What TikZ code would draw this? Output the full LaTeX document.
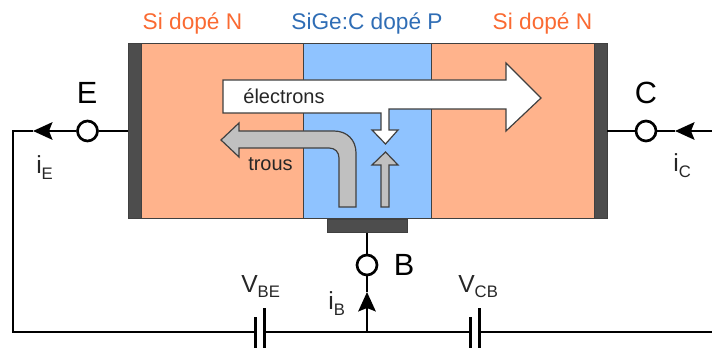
\documentclass[tikz,border=0pt]{standalone}
\usepackage{fontspec}
\setmainfont{Liberation Sans}
\usetikzlibrary{arrows.meta}
\definecolor{peach}{HTML}{FFB38C}
\definecolor{baseblue}{HTML}{8FC3FF}
\definecolor{contact}{HTML}{4D4D4D}
\definecolor{carrier}{HTML}{C0C0C0}
\definecolor{orangetxt}{HTML}{FA6A32}
\definecolor{bluetxt}{HTML}{2F6DB5}
\definecolor{edge}{HTML}{404040}
\newcommand{\withsub}[2]{{\fontsize{18.5}{22}\selectfont #1\raisebox{-4pt}{\fontsize{12.5}{15}\selectfont #2}}}
\tikzset{
  region/.style={draw=edge,line width=0.75pt},
  metal/.style={draw=edge,fill=contact,line width=0.75pt},
  wire/.style={draw=black,line width=2.2pt},
  plate/.style={draw=black,line width=2.4pt},
  term/.style={circle,draw=black,fill=white,line width=2pt,minimum size=15pt,inner sep=0pt},
  flow/.style={draw=edge,line width=0.9pt,line join=miter},
  headwire/.style={wire,-{Stealth[length=14.5pt,width=13pt,inset=2.5pt]}},
  dopelabel/.style={font=\fontsize{17}{20}\selectfont,inner sep=0pt},
  bigletter/.style={font=\fontsize{23}{28}\selectfont,inner sep=0pt},
  flowlabel/.style={font=\fontsize{15}{18}\selectfont,inner sep=0pt,text=black!85},
  sublabel/.style={inner sep=0pt,text=black!85}
}
\begin{document}
\begin{tikzpicture}[x=0.75pt,y=-0.75pt]
\useasboundingbox (0,0) rectangle (712,348);
% regions
\filldraw[region,fill=peach] (128,44) rectangle (607,219);
\filldraw[region,fill=baseblue] (303,44) rectangle (431,219);
\node[metal,minimum width=9.75pt,minimum height=131.25pt,inner sep=0pt,outer sep=0pt] (ce) at (134.5,131.5) {};
\node[metal,minimum width=9.75pt,minimum height=131.25pt,inner sep=0pt,outer sep=0pt] (cc) at (600.5,131.5) {};
\node[metal,minimum width=60pt,minimum height=10pt,inner sep=0pt,outer sep=0pt] (cb) at (367,226) {};
% flow arrows
\filldraw[flow,fill=white] (223,80) -- (506,80) -- (506,63) -- (541,98) -- (506,131) -- (506,109)
  -- (389,109) -- (389,130) -- (398,130) -- (385.5,144) -- (372,130) -- (381,130) -- (381,113) -- (223,113) -- cycle;
\filldraw[flow,fill=carrier] (356,207) -- (356,153) .. controls (356,140) and (347,131) .. (334,131)
  -- (239,131) -- (239,123) -- (221,140) -- (239,157) -- (239,148) -- (329,148)
  .. controls (335,148) and (339,152) .. (339,158) -- (339,207) -- cycle;
\filldraw[flow,fill=carrier] (381,207) -- (381,165) -- (372,165) -- (385.5,152) -- (398,165) -- (389,165) -- (389,207) -- cycle;
% terminals
\node[term] (te) at (87.5,131) {};
\node[term] (tc) at (646,131) {};
\node[term] (tb) at (367,265) {};
% named points
\coordinate (tipe) at (33,131);
\coordinate (cornerl) at (13,131);
\coordinate (botl) at (13,332);
\coordinate (pa1) at (255.5,332);
\coordinate (pa2) at (264.5,332);
\coordinate (pb1) at (470.5,332);
\coordinate (pb2) at (479.5,332);
\coordinate (junc) at (367,332);
\coordinate (tipb) at (367,292);
\coordinate (tipc) at (675,131);
\coordinate (edgeR) at (712,131);
\coordinate (botR) at (712,332);
% wires
\draw[wire] (te) -- (ce.west |- te);
\draw[headwire] (te) -- (tipe);
\draw[wire,line join=miter] (tipe) -- (cornerl) -- (botl) -- (pa1);
\draw[wire] (pa2) -- (pb1);
\draw[wire] (pb2) -- (botR);
\draw[wire] (tc) -- (cc.east |- tc);
\draw[headwire] (edgeR) -- (tipc);
\draw[wire] (tipc) -- (tc);
\draw[wire] (cb) -- (tb);
\draw[headwire] (junc) -- (tipb);
\draw[wire] (tipb) -- (tb);
% plates
\draw[plate] (255.5,317) -- (255.5,348);
\draw[plate] (264.5,308) -- (264.5,348);
\draw[plate] (470.5,317) -- (470.5,348);
\draw[plate] (479.5,308) -- (479.5,348);
% labels
\node[dopelabel,text=orangetxt] (l1) at (192.5,24) {Si dopé N};
\node[dopelabel,text=bluetxt] (l2) at (367,24) {SiGe:C dopé P};
\node[dopelabel,text=orangetxt] (l3) at (542.5,24) {Si dopé N};
\node[flowlabel] (lel) at (284,96) {électrons};
\node[flowlabel] (ltr) at (270.5,164) {trous};
\node[bigletter] (le) at (87,93) {E};
\node[bigletter] (lc) at (646,93) {C};
\node[bigletter] (lb) at (404,265) {B};
\node[sublabel,anchor=base west] (ie) at (36,174) {\withsub{i}{E}};
\node[sublabel,anchor=base west] (ic) at (673,172) {\withsub{i}{C}};
\node[sublabel,anchor=base west] (ib) at (328,310) {\withsub{i}{B}};
\node[sublabel,anchor=base west] (vbe) at (241,292) {\withsub{V}{BE}};
\node[sublabel,anchor=base west] (vcb) at (458,292) {\withsub{V}{CB}};
\end{tikzpicture}
\end{document}
